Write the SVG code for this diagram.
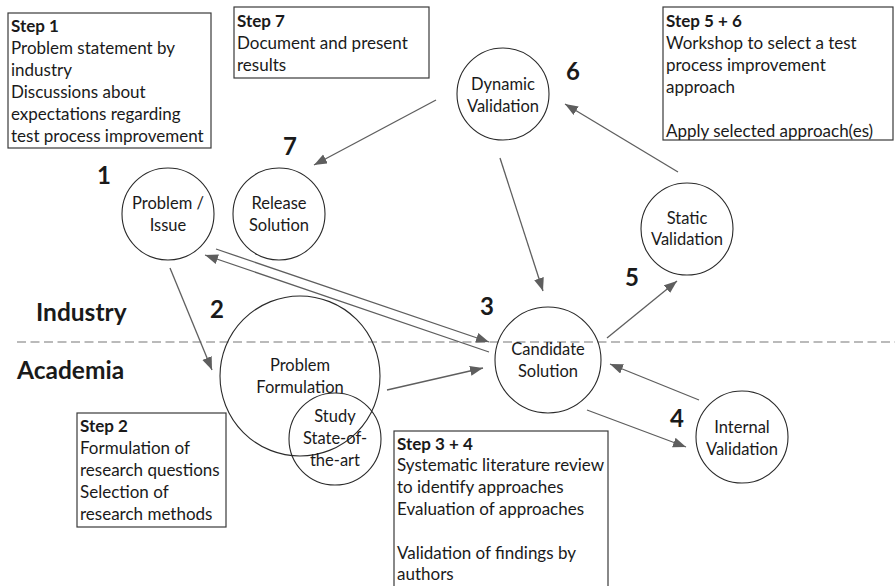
<svg xmlns="http://www.w3.org/2000/svg" width="895" height="586" viewBox="0 0 895 586">
<style>
text{font-family:Lato,"Liberation Sans",sans-serif;fill:#1a1a1a}
.t{font-size:17px}
.b{font-weight:bold}
.c{font-size:16.5px;text-anchor:middle}
.n{font-size:24px;font-weight:bold;text-anchor:middle}
.lbl{font-size:24.5px;font-weight:bold}
.box{fill:#fff;stroke:#3a3a3a;stroke-width:1.2}
.node{fill:none;stroke:#2a2a2a;stroke-width:1.1}
.arr{stroke:#5e5e5e;stroke-width:1.3;fill:none;marker-end:url(#ah)}
</style>
<defs>
<marker id="ah" markerUnits="userSpaceOnUse" markerWidth="14" markerHeight="12" refX="13" refY="5" orient="auto">
<path d="M0,0 L13,5 L0,10 Z" fill="#5e5e5e"/>
</marker>
</defs>
<rect width="895" height="586" fill="#fff"/>

<line x1="17" y1="342" x2="895" y2="342" stroke="#777" stroke-width="1.2" stroke-dasharray="9,4.5"/>
<text class="lbl" x="36" y="321">Industry</text>
<text class="lbl" x="17" y="379">Academia</text>

<g id="step1">
<rect class="box" x="8" y="13" width="203" height="135"/>
<text class="t b" x="11" y="32">Step 1</text>
<text class="t" x="11" y="54">Problem statement by</text>
<text class="t" x="11" y="76">industry</text>
<text class="t" x="11" y="98">Discussions about</text>
<text class="t" x="11" y="120">expectations regarding</text>
<text class="t" x="11" y="142">test process improvement</text>
</g>
<g id="step7">
<rect class="box" x="234" y="7" width="195" height="71"/>
<text class="t b" x="237" y="27">Step 7</text>
<text class="t" x="237" y="49">Document and present</text>
<text class="t" x="237" y="71">results</text>
</g>
<g id="step56">
<rect class="box" x="663" y="7" width="230" height="133"/>
<text class="t b" x="666" y="27">Step 5 + 6</text>
<text class="t" x="666" y="49">Workshop to select a test</text>
<text class="t" x="666" y="71">process improvement</text>
<text class="t" x="666" y="93">approach</text>
<text class="t" x="666" y="137">Apply selected approach(es)</text>
</g>
<g id="step2">
<rect class="box" x="77" y="413" width="149" height="114"/>
<text class="t b" x="80" y="432">Step 2</text>
<text class="t" x="80" y="454">Formulation of</text>
<text class="t" x="80" y="476">research questions</text>
<text class="t" x="80" y="498">Selection of</text>
<text class="t" x="80" y="520">research methods</text>
</g>
<g id="step34">
<rect class="box" x="394" y="431" width="214" height="160"/>
<text class="t b" x="397" y="450">Step 3 + 4</text>
<text class="t" x="397" y="471">Systematic literature review</text>
<text class="t" x="397" y="493">to identify approaches</text>
<text class="t" x="397" y="515">Evaluation of approaches</text>
<text class="t" x="397" y="559">Validation of findings by</text>
<text class="t" x="397" y="580">authors</text>
</g>

<g id="problem-issue">
<circle class="node" cx="168" cy="214" r="46"/>
<text class="c" x="168" y="209">Problem /</text>
<text class="c" x="168" y="231">Issue</text>
<text class="n" x="104" y="184">1</text>
</g>
<g id="release-solution">
<circle class="node" cx="279" cy="214" r="46"/>
<text class="c" x="279" y="209">Release</text>
<text class="c" x="279" y="231">Solution</text>
<text class="n" x="290" y="155">7</text>
</g>
<g id="dynamic-validation">
<circle class="node" cx="503" cy="94" r="46"/>
<text class="c" x="503" y="90">Dynamic</text>
<text class="c" x="503" y="112">Validation</text>
<text class="n" x="573" y="80">6</text>
</g>
<g id="static-validation">
<circle class="node" cx="687" cy="229" r="46"/>
<text class="c" x="687" y="224">Static</text>
<text class="c" x="687" y="245">Validation</text>
<text class="n" x="632" y="286">5</text>
</g>
<g id="candidate-solution">
<circle class="node" cx="548" cy="360" r="53"/>
<text class="c" x="548" y="355">Candidate</text>
<text class="c" x="548" y="377">Solution</text>
<text class="n" x="487" y="315">3</text>
</g>
<g id="internal-validation">
<circle class="node" cx="742" cy="437" r="46"/>
<text class="c" x="742" y="433">Internal</text>
<text class="c" x="742" y="455">Validation</text>
<text class="n" x="677" y="427">4</text>
</g>
<g id="problem-formulation">
<circle class="node" cx="300" cy="376" r="80"/>
<text class="c" x="300" y="371">Problem</text>
<text class="c" x="300" y="393">Formulation</text>
<text class="n" x="217" y="318">2</text>
</g>
<g id="study-state">
<circle class="node" cx="335" cy="439" r="46"/>
<text class="c" x="335" y="422">Study</text>
<text class="c" x="335" y="444">State-of-</text>
<text class="c" x="335" y="466">the-art</text>
</g>

<g id="connectors">
<line class="arr" x1="170" y1="268" x2="212" y2="370"/>
<line class="arr" x1="216" y1="249" x2="489" y2="342"/>
<line class="arr" x1="489" y1="352" x2="205" y2="255"/>
<line class="arr" x1="387" y1="390" x2="483" y2="368"/>
<line class="arr" x1="587" y1="410" x2="686" y2="447"/>
<line class="arr" x1="699" y1="400" x2="610" y2="364"/>
<line class="arr" x1="607" y1="338" x2="677" y2="281"/>
<line class="arr" x1="678" y1="172" x2="565" y2="104"/>
<line class="arr" x1="436" y1="100" x2="314" y2="165"/>
<line class="arr" x1="500" y1="158" x2="543" y2="291"/>
</g>
</svg>
